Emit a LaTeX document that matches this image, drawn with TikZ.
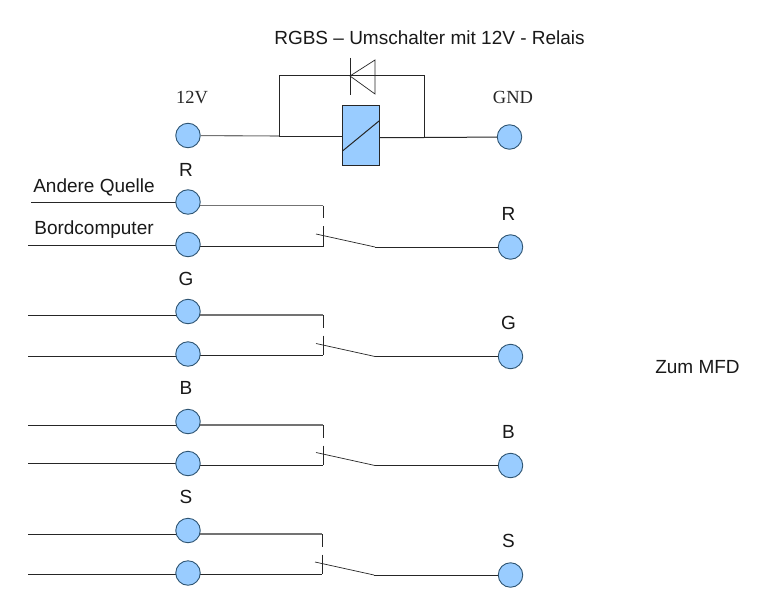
\documentclass[tikz,border=0pt]{standalone}
\usepackage{fontspec}
\usetikzlibrary{backgrounds}
\setmainfont{Liberation Sans}
\newfontfamily\serifface{Liberation Serif}
\definecolor{pin}{HTML}{99CCFF}
\definecolor{pinedge}{HTML}{2F5573}
\tikzset{
  pinnode/.style={circle,draw=pinedge,fill=pin,line width=0.9pt,minimum size=24.5pt,inner sep=0pt},
  wire/.style={draw=black!85,line width=1pt},
  thinwire/.style={draw=black!85,line width=0.7pt},
  lightwire/.style={draw=black!55,line width=1.1pt},
  label/.style={inner sep=0pt,font=\fontsize{19}{22}\selectfont,text=black!90},
  seriflabel/.style={inner sep=0pt,font=\serifface\fontsize{18.5}{21}\selectfont,text=black!85}
}
\begin{document}
\begin{tikzpicture}[x=1pt,y=-1pt]
\useasboundingbox (0,0) rectangle (767,599);
\begin{pgfonlayer}{background}
\fill[white] (0,0) rectangle (767,599);
\end{pgfonlayer}
\node[label] (title) at (429.5,38) {RGBS – Umschalter mit 12V - Relais};
\node[seriflabel] (l12v) at (192,98) {12V};
\node[seriflabel] (lgnd) at (513,97) {GND};
\node[pinnode] (vcc) at (188,135.5) {};
\node[pinnode] (gnd) at (509.5,137) {};
\node[draw=black!85,fill=pin,line width=1pt,minimum width=37pt,minimum height=59pt,inner sep=0pt] (relay) at (360.5,135.5) {};
\draw[line width=1pt,draw=black!85] (342.5,151) -- (379,121);
\coordinate (jl) at (279,136);
\coordinate (jr) at (424,137.5);
\coordinate (tl) at (279,76);
\coordinate (tr) at (424,76);
\coordinate (dk) at (350,76);
\draw[lightwire] (vcc) -- (jl);
\draw[wire] (jl) -- (relay.west |- jl);
\draw[wire] (relay.east |- jr) -- (jr) -- (gnd);
\draw[wire] (jl) -- (tl) -- (tr) -- (jr);
\draw[thinwire] (350,58) -- (350,95);
\draw[thinwire] (dk) -- (375,60) -- (375,94) -- cycle;
\foreach \n/\txt/\lx/\ly/\yt/\yb/\wirA/\wirB/\wirC/\wirD/\rly/\yr/\xs/\xl in {
  r/R/186/170/202/244.5/202.5/245/205.5/246.5/214/247/323/31,
  g/G/186/279/311.5/354/315.5/356/315/355/323/356.5/323/28,
  b/B/186/388/421.5/463.5/425.5/463.5/425/465/432/465.5/323/28,
  s/S/186/497/530.5/573/534.5/574/534/574/541/575/322/28}
{
  \node[pinnode] (\n a) at (188,\yt) {};
  \node[pinnode] (\n b) at (188,\yb) {};
  \node[pinnode] (\n o) at (510.5,\yr) {};
  \node[label] (\n l) at (\lx,\ly) {\txt};
  \node[label] (\n m) at (508.5,\rly) {\txt};
  \coordinate (\n i) at (\xl,\wirA);
  \coordinate (\n j) at (28,\wirB);
  \coordinate (\n c) at (\xs,\wirC);
  \coordinate (\n d) at (\xs,\wirC+12.5);
  \coordinate (\n e) at (\xs,\wirC+20.5);
  \coordinate (\n f) at (\xs,\wirD);
  \coordinate (\n p) at (\xs-7,\yr-13);
  \coordinate (\n q) at (\xs+52,\yr);
  \begin{pgfonlayer}{background}
  \draw[wire] (\n i) -- (\n i -| \n a);
  \draw[wire] (\n j) -- (\n j -| \n b);
  \draw[lightwire] (\n c -| \n a) -- (\n c);
  \draw[wire] (\n f -| \n b) -- (\n f);
  \end{pgfonlayer}
  \draw[thinwire] (\n c) -- (\n d);
  \draw[thinwire] (\n e) -- (\n f);
  \draw[thinwire] (\n p) -- (\n q);
  \draw[wire] (\n q) -- (\n o);
}
\node[label] (andere) at (94,187) {Andere Quelle};
\node[label] (bord) at (94,230) {Bordcomputer};
\node[label] (mfd) at (697.5,367.5) {Zum MFD};
\end{tikzpicture}
\end{document}
